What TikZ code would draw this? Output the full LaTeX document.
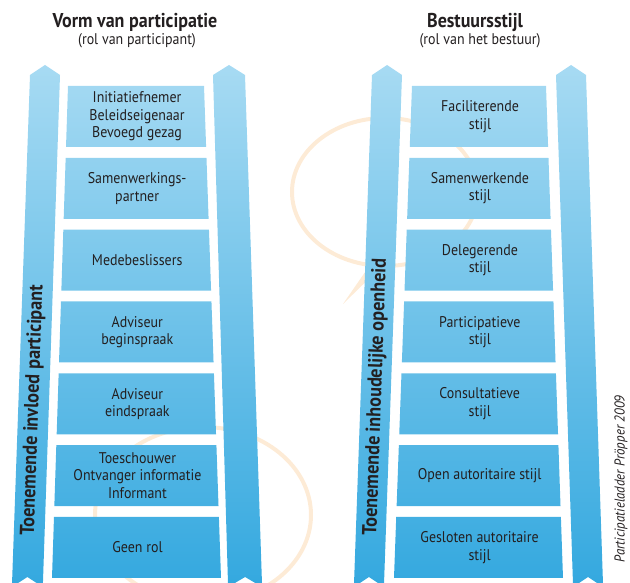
\documentclass[tikz,border=0pt]{standalone}
\usepackage{fontspec}
\setmainfont[FakeStretch=0.9]{PT Sans}
\usetikzlibrary{calc}
\definecolor{ctop}{HTML}{A8DBF3}
\definecolor{cbot}{HTML}{33A8DF}
\definecolor{ink}{HTML}{231F20}
\definecolor{wm}{HTML}{FDEBD6}
\begin{document}
\begin{tikzpicture}[x=1pt,y=-1pt,
  boxtext/.style={align=center,font=\fontsize{15.5}{17.5}\selectfont,text=ink,inner sep=0pt},
  titletext/.style={font=\fontsize{20}{22}\selectfont\bfseries,text=ink,inner sep=0pt},
  subtext/.style={font=\fontsize{15.5}{17}\selectfont,text=ink,inner sep=0pt},
  raillabel/.style={font=\fontsize{20.2}{22}\selectfont\bfseries,text=ink,inner sep=0pt},
  srctext/.style={font=\fontsize{14.3}{16}\selectfont\itshape,text=ink,inner sep=0pt},
  wmline/.style={draw=wm,line width=4pt}]
\useasboundingbox (0,0) rectangle (630,583);

% faint watermark rings
\draw[wmline] (385,192) ellipse [x radius=93, y radius=74];
\fill[wm] (343,304) -- (372,262) -- (382,266) -- cycle;
\draw[wmline] (203,515) ellipse [x radius=108, y radius=88];

% ladder inner edges
\coordinate (L1) at (68,86);  \coordinate (L2) at (52,578);
\coordinate (R1) at (204,86); \coordinate (R2) at (221,578);
\coordinate (M1) at (412,86); \coordinate (M2) at (394,578);
\coordinate (N1) at (546,86); \coordinate (N2) at (563,578);

\foreach \i in {0,...,6}{
  \pgfmathsetmacro\ta{(71.833*\i)/492}
  \pgfmathsetmacro\tb{(71.833*\i+61)/492}
  \coordinate (pa\i) at ($(L1)!\ta!(L2)$);
  \coordinate (pb\i) at ($(R1)!\ta!(R2)$);
  \coordinate (pc\i) at ($(R1)!\tb!(R2)$);
  \coordinate (pd\i) at ($(L1)!\tb!(L2)$);
  \coordinate (qa\i) at ($(M1)!\ta!(M2)$);
  \coordinate (qb\i) at ($(N1)!\ta!(N2)$);
  \coordinate (qc\i) at ($(N1)!\tb!(N2)$);
  \coordinate (qd\i) at ($(M1)!\tb!(M2)$);
}

\begin{scope}
  \clip foreach \i in {0,...,6} {(pa\i) -- (pb\i) -- (pc\i) -- (pd\i) -- cycle
                                 (qa\i) -- (qb\i) -- (qc\i) -- (qd\i) -- cycle}
    (30,75) -- (45,65) -- (60,75) -- (42.8,587) -- (27.4,577) -- (11.9,587) -- cycle
    (213,75) -- (229,65) -- (245,75) -- (262.1,587) -- (245.1,577) -- (228.1,587) -- cycle
    (372,75) -- (387,65) -- (402,75) -- (383.9,587) -- (368.9,577) -- (353.9,587) -- cycle
    (556,75) -- (571,65) -- (586,75) -- (603.1,587) -- (588.1,577) -- (573.1,587) -- cycle;
  \shade[top color=ctop, bottom color=cbot] (0,60) rectangle (630,590);
\end{scope}

% titles
\node[titletext] (t1) at (135,22) {Vorm van participatie};
\node[subtext] (s1) at (137,41) {(rol van participant)};
\node[titletext] (t2) at (475,22) {Bestuursstijl};
\node[subtext] (s2) at (480,41) {(rol van het bestuur)};

% box labels left ladder
\node[boxtext] (b0) at ($(pa0)!0.5!(pc0)$) {Initiatiefnemer\\Beleidseigenaar\\Bevoegd gezag};
\node[boxtext] (b1) at ($(pa1)!0.5!(pc1)$) {Samenwerkings-\\partner};
\node[boxtext] (b2) at ($(pa2)!0.5!(pc2)$) {Medebeslissers};
\node[boxtext] (b3) at ($(pa3)!0.5!(pc3)$) {Adviseur\\beginspraak};
\node[boxtext] (b4) at ($(pa4)!0.5!(pc4)$) {Adviseur\\eindspraak};
\node[boxtext] (b5) at ($(pa5)!0.5!(pc5)$) {Toeschouwer\\Ontvanger informatie\\Informant};
\node[boxtext] (b6) at ($(pa6)!0.5!(pc6)$) {Geen rol};

% box labels right ladder
\node[boxtext] (c0) at ($(qa0)!0.5!(qc0)$) {Faciliterende\\stijl};
\node[boxtext] (c1) at ($(qa1)!0.5!(qc1)$) {Samenwerkende\\stijl};
\node[boxtext] (c2) at ($(qa2)!0.5!(qc2)$) {Delegerende\\stijl};
\node[boxtext] (c3) at ($(qa3)!0.5!(qc3)$) {Participatieve\\stijl};
\node[boxtext] (c4) at ($(qa4)!0.5!(qc4)$) {Consultatieve\\stijl};
\node[boxtext] (c5) at ($(qa5)!0.5!(qc5)$) {Open autoritaire stijl};
\node[boxtext] (c6) at ($(qa6)!0.5!(qc6)$) {Gesloten autoritaire\\stijl};

% rail labels
\node[raillabel, rotate=88] (v1) at (33,410) {Toenemende invloed participant};
\node[raillabel, rotate=88] (v2) at (376,397) {Toenemende inhoudelijke openheid};

% source
\node[srctext, rotate=90] (src) at (621,479) {Participatieladder Pröpper 2009};
\end{tikzpicture}
\end{document}
